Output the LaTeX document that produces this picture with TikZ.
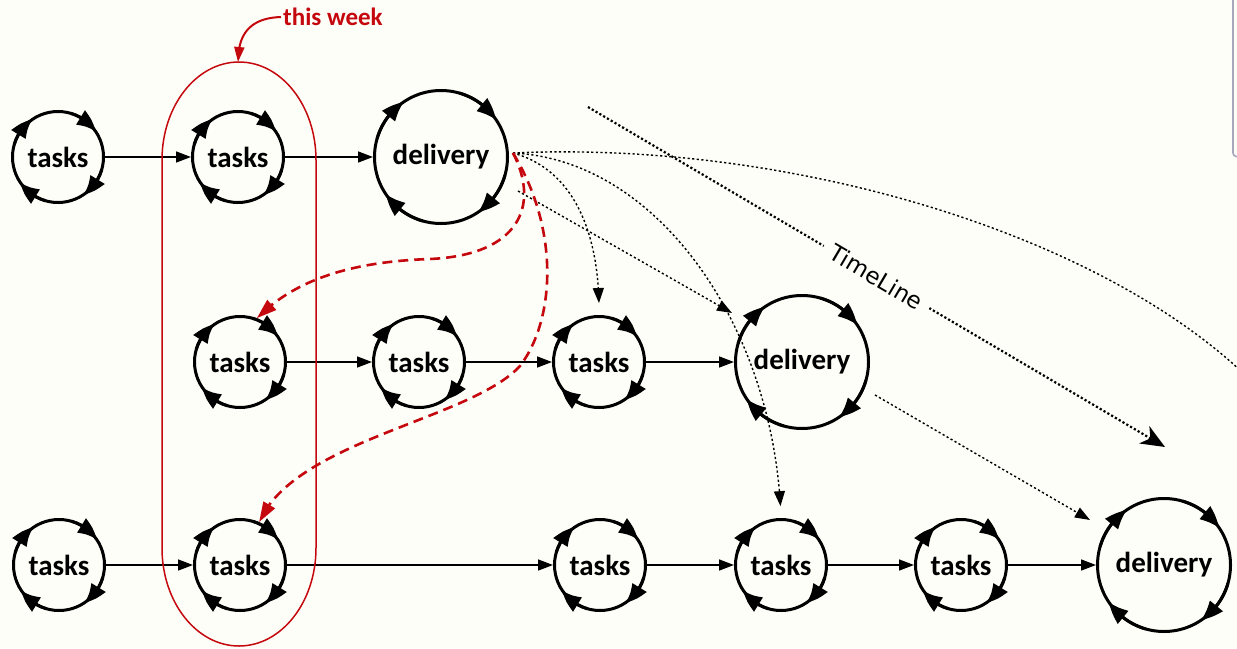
\documentclass[tikz,border=0pt]{standalone}
\usepackage{fontspec}
\setmainfont{Carlito}
\newfontfamily\axisfont{DejaVu Sans}
\usetikzlibrary{arrows.meta,bending,calc}
\definecolor{paper}{RGB}{254,254,248}
\definecolor{wkred}{RGB}{196,8,14}
\definecolor{framegrey}{RGB}{168,168,188}

% four clockwise arrowheads riding on a circular work cycle
\newcommand\spinarrows[2]{%
  \foreach \t in {34,124,214,304}
    \draw[turn] ($(#1)+(-\t-40:#2)$) arc[start angle=-\t-40, end angle=-\t, radius=#2];%
}

\begin{document}
\begin{tikzpicture}[x=1pt,y=-1pt,
  work/.style={circle, draw, line width=3pt, minimum size=91pt, inner sep=0pt,
    font=\fontsize{29}{31}\selectfont\bfseries},
  ship/.style={work, minimum size=133pt},
  turn/.style={line width=3pt, -{Triangle[length=21pt,width=16pt,bend]}},
  flow/.style={line width=1.5pt, -{Triangle[length=15pt,width=11pt]}},
  hint/.style={line width=1.4pt, dash pattern=on 2.2pt off 2.4pt,
    -{Triangle[length=15pt,width=11pt]}},
  axis/.style={line width=2.2pt, dash pattern=on 2.2pt off 2.2pt,
    -{Stealth[length=24pt,width=20pt,inset=7pt]}},
  plan/.style={wkred, line width=2.6pt, dash pattern=on 10pt off 6pt,
    -{Triangle[length=20pt,width=13pt]}},
  week/.style={wkred, line width=1.5pt},
  weekarrow/.style={wkred, line width=2pt, -{Triangle[length=15pt,width=10pt]}}]

\fill[paper] (0,0) rectangle (1237,648);
\useasboundingbox (0,0) rectangle (1237,648);
\clip (0,0) rectangle (1237,648);

% window edge at the right
\draw[framegrey, line width=1.6pt, rounded corners=3pt] (1233,-2) -- (1233,156) -- (1239,157);

% first row
\node[work] (t1a) at (58,157) {tasks};
\node[work] (t1b) at (238,157) {tasks};
\node[ship] (d1) at (441,157) {delivery};
% second row
\node[work] (t2a) at (240,362) {tasks};
\node[work] (t2b) at (419,362) {tasks};
\node[work] (t2c) at (599,362) {tasks};
\node[ship] (d2) at (802,362) {delivery};
% third row
\node[work] (t3a) at (59,565) {tasks};
\node[work] (t3b) at (240,565) {tasks};
\node[work] (t3c) at (600,565) {tasks};
\node[work] (t3d) at (781,565) {tasks};
\node[work] (t3e) at (961,565) {tasks};
\node[ship] (d3) at (1164,565) {delivery};

\foreach \n in {t1a,t1b,t2a,t2b,t2c,t3a,t3b,t3c,t3d,t3e} {\spinarrows{\n}{45.5}}
\foreach \n in {d1,d2,d3} {\spinarrows{\n}{66.5}}

% sequence of work inside each row
\draw[flow] (t1a) -- (t1b);
\draw[flow] (t1b) -- (d1);
\draw[flow] (t2a) -- (t2b);
\draw[flow] (t2b) -- (t2c);
\draw[flow] (t2c) -- (d2);
\draw[flow] (t3a) -- (t3b);
\draw[flow] (t3b) -- (t3c);
\draw[flow] (t3c) -- (t3d);
\draw[flow] (t3d) -- (t3e);
\draw[flow] (t3e) -- (d3);

% the current week (y grows downwards, so angles run the other way)
\draw[week] (162,160) -- (162,548)
  arc[start angle=180, end angle=0, x radius=77, y radius=98]
  -- (316,160)
  arc[start angle=0, end angle=-180, x radius=77, y radius=98] -- cycle;
\coordinate (weektop) at (238,62);
\node[wkred, anchor=west, inner sep=2pt, font=\fontsize{25}{27}\selectfont\bfseries]
  (wk) at (281,17) {this week};
\draw[weekarrow] (wk.west) .. controls (250,18) and (238,34) .. (weektop);

% time axis
\coordinate (tl0) at (588,107);
\coordinate (tl1) at (1165,447);
\draw[axis] (tl0) -- node[sloped, fill=paper, inner sep=9pt,
  font=\axisfont\fontsize{23}{25}\selectfont] (tlabel) {TimeLine} (tl1);

% dependencies leaving the first delivery
\coordinate (hub) at (513,153);
\draw[hint] (hub) .. controls (800,140) and (1120,240) .. (1262,392);
\draw[hint, shorten >=12pt] (hub) .. controls (575,170) and (600,235) .. (t2c.north);
\draw[hint, shorten >=12pt] (hub) .. controls (660,160) and (775,330) .. (t3d.north);
\draw[hint] ($(d1)+(77,34)$) -- ($(d2)+(-70,-49)$);
\draw[hint] ($(d2)+(73,33)$) -- ($(d3)+(-74,-45)$);

% work pulled into this week
\draw[plan] (hub) .. controls (540,205) and (520,255) .. (430,259)
  .. controls (340,262) and (290,285) .. (t2a.69);
\draw[plan] (hub) .. controls (560,230) and (555,320) .. (520,366)
  .. controls (470,420) and (295,440) .. (t3b.66);
\end{tikzpicture}
\end{document}
